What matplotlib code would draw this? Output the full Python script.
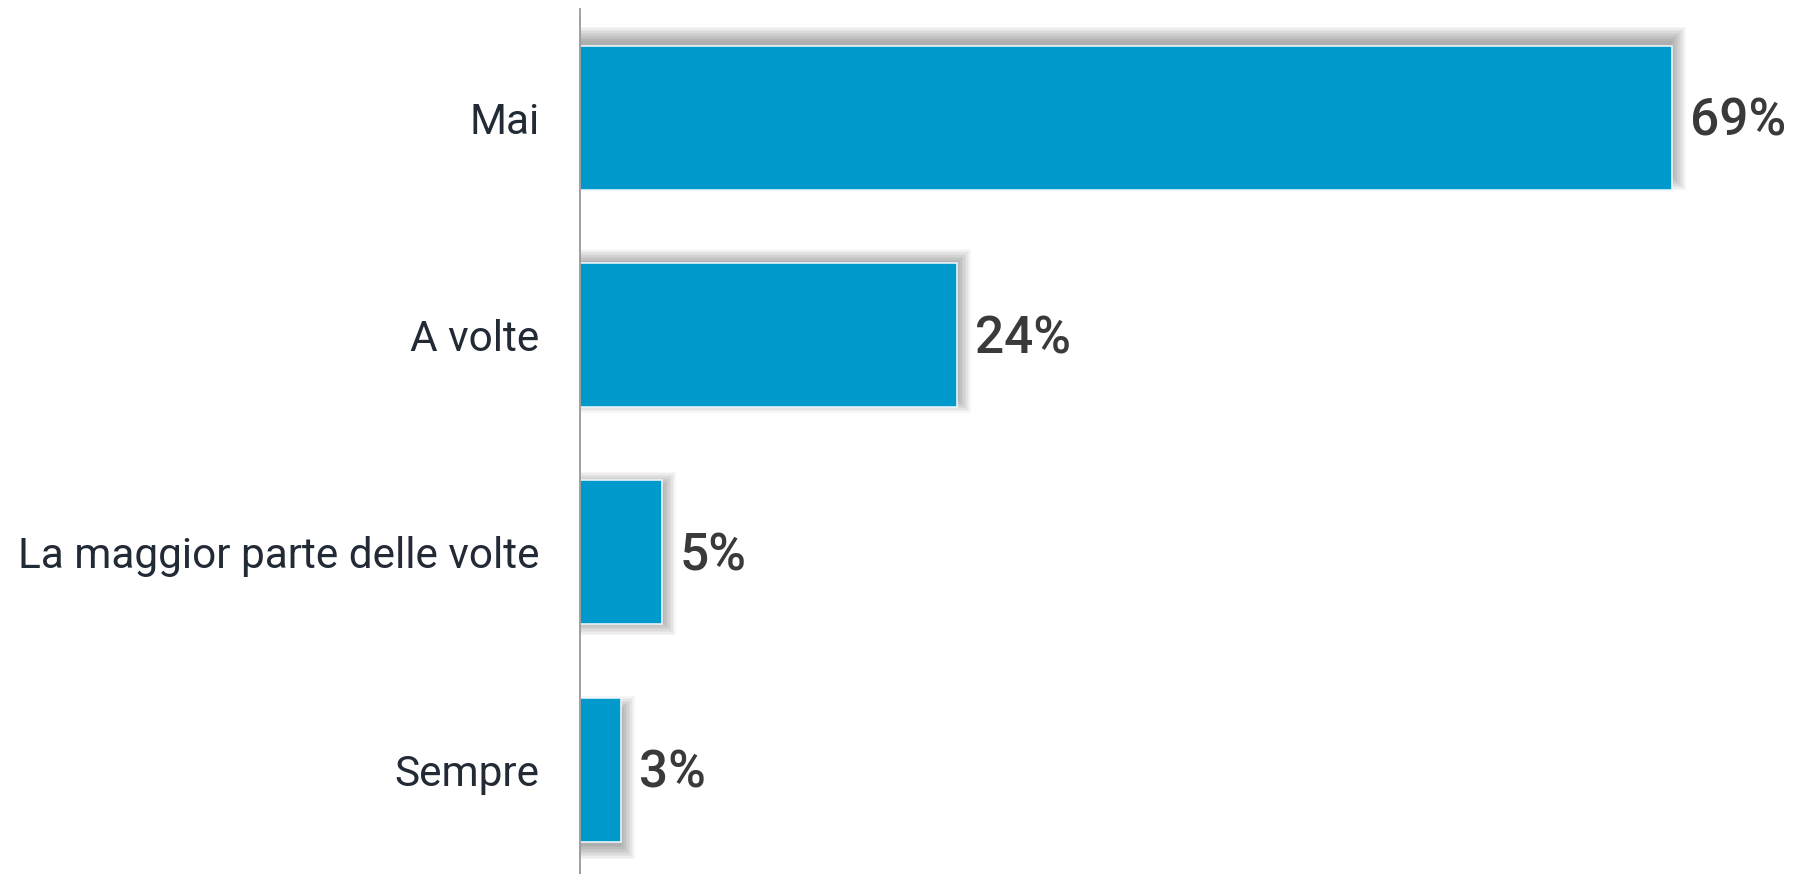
import numpy as np
import matplotlib.pyplot as plt
from matplotlib.patches import Rectangle

categories = ['Mai', 'A volte', 'La maggior parte delle volte', 'Sempre']
values = [68.9, 23.8, 5.2, 2.6]
labels = ['69%', '24%', '5%', '3%']

bar_color = '#0099cc'
W, H, DPI = 1793, 874, 100

fig = plt.figure(figsize=(W / DPI, H / DPI), dpi=DPI)
ax = fig.add_axes([580 / W, 0, 1 - 580 / W, 865 / H])

xmax = 76.5
ax.set_xlim(0, xmax)
ax.set_ylim(3.48, -0.50)

# pixel -> data helpers
px_x = xmax / (W - 580)
px_y = 1 / 217.0
bar_h = 0.664

# soft shadow (offset varies a bit from bar to bar, like the original)
shadow_dy = [-9, -4, 1, 8]
for i, v in enumerate(values):
    for e in np.arange(-4, 10, 1.5):
        r = Rectangle((0, i - bar_h / 2 + (shadow_dy[i] - e) * px_y),
                      v + (4 + e) * px_x, bar_h + 2 * e * px_y,
                      facecolor='black', edgecolor='none', alpha=0.035, zorder=1)
        ax.add_patch(r)

y = np.arange(len(categories))
ax.barh(y, values, height=bar_h, color=bar_color, edgecolor='#e8f4fa',
        linewidth=1.2, zorder=3)

for i, (v, lab) in enumerate(zip(values, labels)):
    ax.annotate(lab, (v, i), xytext=(12.5, -3), textcoords='offset points',
                va='center', ha='left', fontsize=37, fontweight='medium',
                color='#3a3a3a', family='Roboto')

ax.set_yticks(y)
ax.set_yticklabels(categories, fontsize=30.5, color='#222a35', family='Roboto')
ax.tick_params(axis='y', length=0, pad=29)
ax.set_xticks([])
for s in ['top', 'right', 'bottom']:
    ax.spines[s].set_visible(False)
ax.spines['left'].set_color('#999999')
ax.spines['left'].set_linewidth(1.3)
ax.spines['left'].set_zorder(5)

fig.savefig('out.png', dpi=DPI)
